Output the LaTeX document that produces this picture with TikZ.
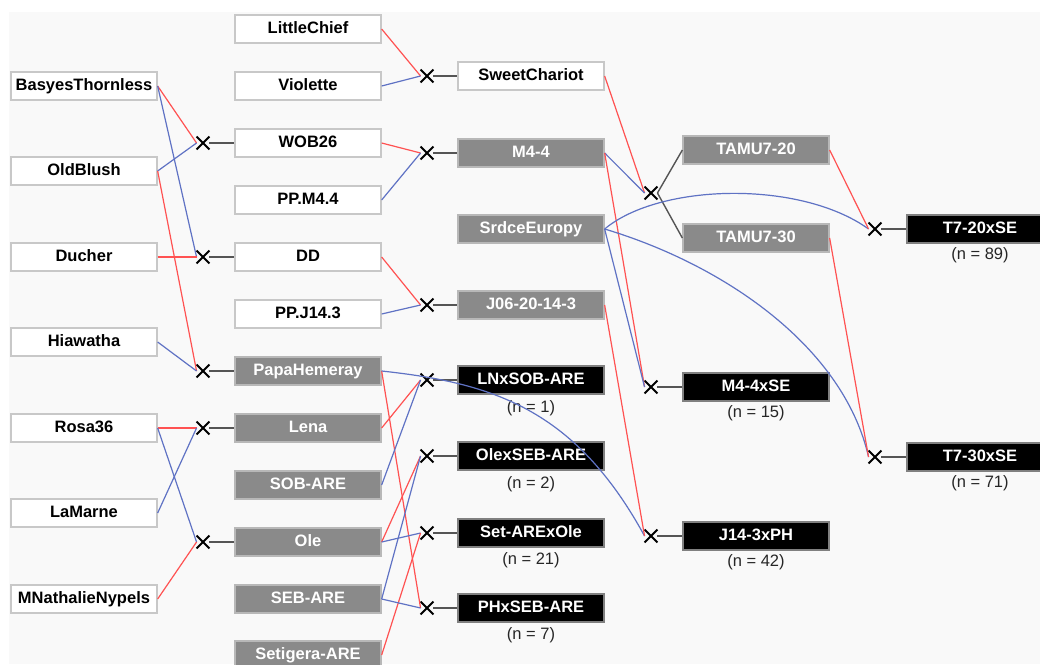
\documentclass[tikz,border=0pt]{standalone}
\usepackage{fontspec}
\setmainfont{Liberation Sans}
\usetikzlibrary{shapes.misc}
\definecolor{bg}{HTML}{F9F9F9}
\definecolor{pred}{HTML}{FF5252}
\definecolor{pblue}{HTML}{5F72C4}
\definecolor{bord}{HTML}{C8C8C8}
\definecolor{gbord}{HTML}{B8B8B8}
\definecolor{gfill}{HTML}{8A8A8A}
\definecolor{conn}{HTML}{555555}
\tikzset{
 base/.style={rectangle, minimum width=146pt, minimum height=28pt, inner sep=0pt,
   text height=12pt, text depth=3.5pt,
   font=\fontsize{16.5}{18}\selectfont\bfseries, line width=1.3pt},
 wbox/.style={base, draw=bord, fill=white, text=black},
 gbox/.style={base, draw=gbord, fill=gfill, text=white},
 kbox/.style={base, draw=gray, fill=black, text=white},
 xmark/.style={cross out, draw=black, line width=1.9pt, minimum size=11pt, inner sep=0pt},
 nlab/.style={font=\fontsize{16.5}{18}\selectfont, text=black!85, inner sep=0pt},
 fem/.style={draw=pred, line width=1.2pt},
 mal/.style={draw=pblue, line width=1.2pt},
 link/.style={draw=conn, line width=1.4pt},
}
\begin{document}
\begin{tikzpicture}[x=1pt,y=-1pt]
\fill[white] (0,0) rectangle (1040,664);
\fill[bg] (9,12) rectangle (1040,664);
\useasboundingbox (0,0) rectangle (1040,664);
% column 1
\node[wbox] (basyes) at (84,86) {BasyesThornless};
\node[wbox] (oldblush) at (84,171) {OldBlush};
\node[wbox] (ducher) at (84,257) {Ducher};
\node[wbox] (hiawatha) at (84,342) {Hiawatha};
\node[wbox] (rosa) at (84,428) {Rosa36};
\node[wbox] (lamarne) at (84,513) {LaMarne};
\node[wbox] (mnath) at (84,599) {MNathalieNypels};
% column 2
\node[wbox] (little) at (308,29) {LittleChief};
\node[wbox] (violette) at (308,86) {Violette};
\node[wbox] (wob) at (308,143) {WOB26};
\node[wbox] (ppm) at (308,200) {PP.M4.4};
\node[wbox] (dd) at (308,257) {DD};
\node[wbox] (ppj) at (308,314) {PP.J14.3};
\node[gbox] (papa) at (308,371) {PapaHemeray};
\node[gbox] (lena) at (308,428) {Lena};
\node[gbox] (sob) at (308,485) {SOB-ARE};
\node[gbox] (ole) at (308,542) {Ole};
\node[gbox] (seb) at (308,599) {SEB-ARE};
\node[gbox] (setig) at (308,655) {Setigera-ARE};
% column 3
\node[wbox] (sweet) at (531,76) {SweetChariot};
\node[gbox] (m44) at (531,153) {M4-4};
\node[gbox] (srdce) at (531,229) {SrdceEuropy};
\node[gbox] (j06) at (531,305) {J06-20-14-3};
\node[kbox] (lnx) at (531,380) {LNxSOB-ARE};
\node[kbox] (olex) at (531,456) {OlexSEB-ARE};
\node[kbox] (setx) at (531,533) {Set-AREx{}Ole};
\node[kbox] (phx) at (531,608) {PHxSEB-ARE};
\node[nlab] (n1) at (531,408) {(n = 1)};
\node[nlab] (n2) at (531,484) {(n = 2)};
\node[nlab] (n21) at (531,560) {(n = 21)};
\node[nlab] (n7) at (531,635) {(n = 7)};
% column 4
\node[gbox] (tamu20) at (756,150) {TAMU7-20};
\node[gbox] (tamu30) at (756,238) {TAMU7-30};
\node[kbox] (m4se) at (756,387) {M4-4xSE};
\node[kbox] (j14) at (756,536) {J14-3xPH};
\node[nlab] (n15) at (756,413) {(n = 15)};
\node[nlab] (n42) at (756,562) {(n = 42)};
% column 5
\node[kbox] (t720) at (980,229) {T7-20xSE};
\node[kbox] (t730) at (980,457) {T7-30xSE};
\node[nlab] (n89) at (980,255) {(n = 89)};
\node[nlab] (n71) at (980,483) {(n = 71)};
% crosses
\node[xmark] (xwob) at (203,143) {};
\node[xmark] (xdd) at (203,257) {};
\node[xmark] (xpapa) at (203,371) {};
\node[xmark] (xlena) at (203,428) {};
\node[xmark] (xole) at (203,542) {};
\node[xmark] (xsweet) at (427,76) {};
\node[xmark] (xm44) at (427,153) {};
\node[xmark] (xj06) at (427,305) {};
\node[xmark] (xlnx) at (427,380) {};
\node[xmark] (xolex) at (427,456) {};
\node[xmark] (xsetx) at (427,533) {};
\node[xmark] (xphx) at (427,608) {};
\node[xmark] (xtamu) at (651,193) {};
\node[xmark] (xm4se) at (651,387) {};
\node[xmark] (xj14) at (651,536) {};
\node[xmark] (xt720) at (875,229) {};
\node[xmark] (xt730) at (875,457) {};
% links cross -> child
\foreach \a/\b in {xwob/wob, xdd/dd, xpapa/papa, xlena/lena, xole/ole,
  xsweet/sweet, xm44/m44, xj06/j06, xlnx/lnx, xolex/olex, xsetx/setx, xphx/phx,
  xtamu/tamu20, xtamu/tamu30, xm4se/m4se, xj14/j14, xt720/t720, xt730/t730}
  \draw[link] (\a.east) -- (\b.west);
% column 1 parents
\draw[fem] (basyes.east) -- (xwob.west);
\draw[mal] (basyes.east) -- (xdd.west);
\draw[mal] (oldblush.east) -- (xwob.west);
\draw[fem] (oldblush.east) -- (xpapa.west);
\draw[fem] (ducher.east) -- (xdd.west);
\draw[mal] (hiawatha.east) -- (xpapa.west);
\draw[fem] (rosa.east) -- (xlena.west);
\draw[mal] (rosa.east) -- (xole.west);
\draw[mal] (lamarne.east) -- (xlena.west);
\draw[fem] (mnath.east) -- (xole.west);
% column 2 parents
\draw[fem] (little.east) -- (xsweet.west);
\draw[mal] (violette.east) -- (xsweet.west);
\draw[fem] (wob.east) -- (xm44.west);
\draw[mal] (ppm.east) -- (xm44.west);
\draw[fem] (dd.east) -- (xj06.west);
\draw[mal] (ppj.east) -- (xj06.west);
\draw[fem] (papa.east) -- (xphx.west);
\draw[mal] (papa.east) .. controls +(110,12) and +(-70,-128) .. (xj14.west);
\draw[fem] (lena.east) -- (xlnx.west);
\draw[mal] (sob.east) -- (xlnx.west);
\draw[fem] (ole.east) -- (xolex.west);
\draw[mal] (seb.east) -- (xolex.west);
\draw[mal] (ole.east) -- (xsetx.west);
\draw[fem] (setig.east) -- (xsetx.west);
\draw[mal] (seb.east) -- (xphx.west);
% column 3 parents
\draw[fem] (sweet.east) -- (xtamu.west);
\draw[mal] (m44.east) -- (xtamu.west);
\draw[fem] (m44.east) -- (xm4se.west);
\draw[mal] (srdce.east) -- (xm4se.west);
\draw[fem] (j06.east) -- (xj14.west);
\draw[mal] (srdce.east) .. controls +(55,-46) and +(-68,-49) .. (xt720.west);
\draw[mal] (srdce.east) .. controls +(120,36) and +(-25,-110) .. (xt730.west);
% column 4 parents
\draw[fem] (tamu20.east) -- (xt720.west);
\draw[fem] (tamu30.east) -- (xt730.west);
\end{tikzpicture}
\end{document}
